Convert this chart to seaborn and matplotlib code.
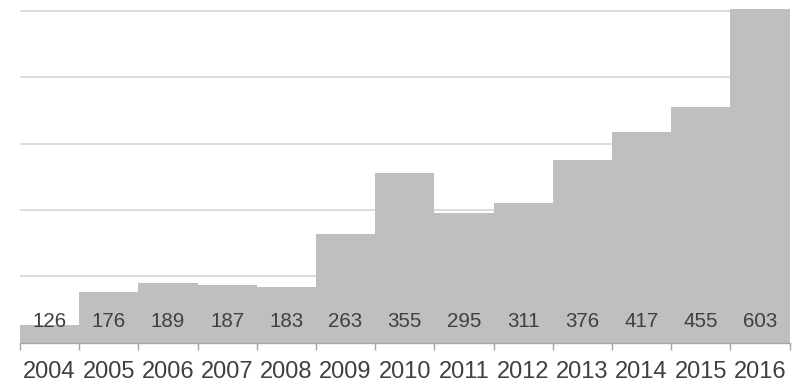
import matplotlib
matplotlib.use("Agg")
import matplotlib.pyplot as plt
import seaborn as sns
import pandas as pd
import numpy as np

years = ["2004", "2005", "2006", "2007", "2008", "2009", "2010",
         "2011", "2012", "2013", "2014", "2015", "2016"]
values = [126, 176, 189, 187, 183, 263, 355, 295, 311, 376, 417, 455, 603]
grid_values = [200, 300, 400, 500, 600]

sns.set_theme(style="white")
plt.rcParams['font.family'] = ['Liberation Sans', 'DejaVu Sans']

df = pd.DataFrame({"year": years, "value": values})

fig = plt.figure(figsize=(8, 3.83), dpi=100)
ax = fig.add_axes([20 / 800, (383 - 342.5) / 383, 769.5 / 800, 342.5 / 383])

for g in grid_values:
    ax.axhline(g, color="#d9d9d9", lw=1.3, zorder=0)

sns.barplot(data=df, x="year", y="value", color="#bfbfbf", width=1.0,
            saturation=1, ax=ax, zorder=2, edgecolor="none", linewidth=0)

ax.set_ylim(100, 100 + 342.5 / 0.663)
ax.set_xlim(-0.5, len(years) - 0.5)

for i, v in enumerate(values):
    ax.annotate(str(v), xy=(i, 100), xytext=(0, 15), textcoords="offset points",
                ha="center", va="center", fontsize=14.8, color="#404040", zorder=3)

for s in ["top", "right", "left"]:
    ax.spines[s].set_visible(False)
ax.spines["bottom"].set_color("#a6a6a6")
ax.spines["bottom"].set_linewidth(1.0)
ax.set_yticks([])
ax.set_xlabel("")
ax.set_ylabel("")
ax.set_xticks(range(len(years)))
ax.set_xticklabels(years)
ax.tick_params(axis="x", which="major", length=0, pad=13, labelsize=17, labelcolor="#404040")
ax.set_xticks(np.arange(-0.5, len(years), 1.0), minor=True)
ax.tick_params(axis="x", which="minor", length=5, width=1.0, color="#a6a6a6", direction="out")
ax.xaxis.set_tick_params(bottom=True)
ax.tick_params(axis="x", which="minor", bottom=True)

fig.savefig("out.png", dpi=100)
